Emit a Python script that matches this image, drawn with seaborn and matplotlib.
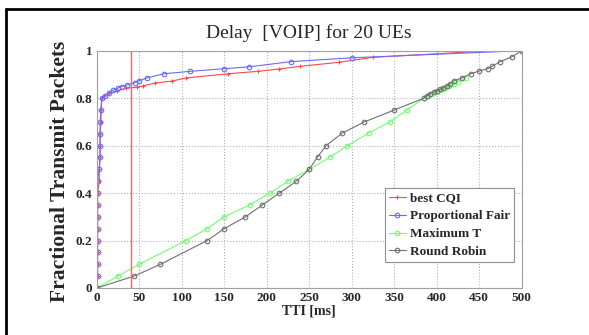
import matplotlib
matplotlib.use("Agg")
import matplotlib.pyplot as plt
import seaborn as sns
from matplotlib.lines import Line2D

# steep start shared by best CQI / PF, then the tails
cqi_x = [0, 1, 1, 1, 1, 1, 1, 1, 1, 3, 3, 4, 4, 4, 5, 5, 6,
         9, 15, 24, 35, 47, 55, 69, 89, 105, 155, 190, 215, 239, 285, 325, 450, 500]
cqi_y = [0, .05, .1, .15, .2, .25, .3, .35, .4, .45, .5, .55, .6, .65, .7, .75, .8,
         .81, .82, .832, .842, .846, .852, .864, .872, .885, .903, .913, .923, .934, .951, .972, .997, 1.0]

pf_x = [0, 1, 1, 1, 1, 1, 1, 1, 1, 1, 3, 4, 4, 4, 4, 5, 6,
        10, 14.5, 19.6, 24.7, 29.4, 35.3, 45, 49.8, 58.8, 79.5, 110, 150, 179, 229, 300, 500]
pf_y = [0, .05, .1, .15, .2, .25, .3, .35, .4, .45, .5, .55, .6, .65, .7, .75, .8,
        .81, .823, .834, .842, .849, .855, .865, .873, .885, .903, .913, .924, .932, .954, .97, 1.0]

maxt_x = [0, 25, 50, 105, 130, 150, 180, 204, 225, 250, 274, 295, 320, 345, 365,
          385, 390, 395, 400, 405, 410, 415, 420, 425, 434]
maxt_y = [0, .05, .1, .2, .25, .3, .35, .4, .45, .5, .55, .6, .653, .7, .75,
          .8, .81, .818, .826, .834, .842, .85, .86, .868, .885]

rr_x = [0, 44, 75, 130, 150, 175, 195, 215, 235, 250, 260, 270, 289, 315, 350,
        385, 388.5, 392.5, 396.5, 400, 404, 408, 412, 416, 420, 429.5,
        440, 450, 460, 465, 475, 489, 500]
rr_y = [0, .05, .1, .2, .25, .3, .35, .4, .45, .5, .553, .6, .653, .7, .75,
        .8, .811, .819, .826, .831, .838, .844, .852, .861, .873, .885,
        .903, .914, .924, .934, .954, .975, 1.0]

delay_limit = 40

sns.set_style("white")
plt.rcParams['font.family'] = ['Liberation Serif', 'DejaVu Serif']

fig = plt.figure(figsize=(5.89, 3.35), dpi=100)
ax = fig.add_axes([0.1642, 0.1403, 0.7215, 0.7084])

series = [
    (cqi_x, cqi_y, 'best CQI', '#ff4848', '+'),
    (pf_x, pf_y, 'Proportional Fair', '#6a6aff', 'o'),
    (maxt_x, maxt_y, 'Maximum T', '#70ff70', 'o'),
    (rr_x, rr_y, 'Round Robin', '#707070', 'o'),
]
for xs, ys, name, col, mk in series:
    sns.lineplot(x=xs, y=ys, ax=ax, sort=False, estimator=None, color=col,
                 linewidth=0.8, marker=mk, markersize=3.3,
                 markerfacecolor='none' if mk == 'o' else col,
                 markeredgecolor=col, markeredgewidth=0.8, label=name)

ax.axvline(delay_limit, color='#ff6464', linewidth=1.0)

ax.set_xlim(0, 500)
ax.set_ylim(0, 1)
ax.set_xticks(range(0, 501, 50))
ax.set_yticks([0, 0.2, 0.4, 0.6, 0.8, 1])
ax.set_yticklabels(['0', '0.2', '0.4', '0.6', '0.8', '1'])
ax.grid(True, color='#b0b0b0', linestyle=':', linewidth=0.8)
ax.tick_params(length=0, pad=3, labelsize=9.5)
for lab in ax.get_xticklabels() + ax.get_yticklabels():
    lab.set_fontweight('bold')
for sp in ax.spines.values():
    sp.set_color('#a0a0a0')
    sp.set_linewidth(0.8)

ax.set_title('Delay  [VOIP] for 20 UEs', fontsize=14, pad=9)
ax.set_xlabel('TTI [ms]', fontsize=10, fontweight='bold', labelpad=0)
ax.set_ylabel('Fractional Transmit Packets', fontsize=15.5, fontweight='bold')
ax.yaxis.label.set_va('center')
ax.yaxis.set_label_coords(-0.086, 0.49)

leg = ax.legend(loc='lower right', bbox_to_anchor=(0.982, 0.11), borderaxespad=0,
                prop={'weight': 'bold', 'size': 9.5}, handlelength=1.3,
                handletextpad=0.3, labelspacing=0.42, fancybox=False,
                borderpad=0.3, framealpha=1)
leg.get_frame().set_edgecolor('#909090')
leg.get_frame().set_linewidth(0.8)

# outer frame (top and left edges visible in the image)
fig.add_artist(Line2D([5.5 / 589, 1.0], [1 - 8.5 / 335] * 2, color='black', linewidth=2))
fig.add_artist(Line2D([5.5 / 589] * 2, [0.0, 1 - 8.5 / 335], color='black', linewidth=2))

fig.savefig('out.png', dpi=100)
